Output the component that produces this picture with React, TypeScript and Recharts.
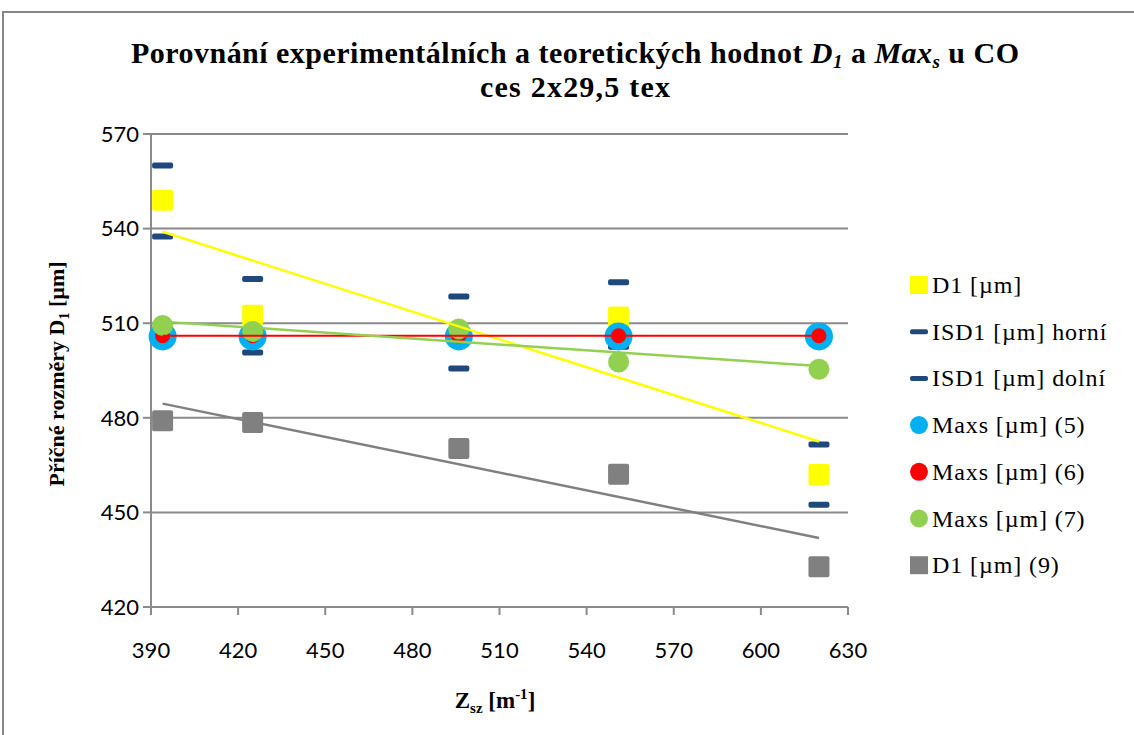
import React from "react";
import { ScatterChart, Scatter, XAxis, YAxis, CartesianGrid } from "recharts";

// Zsz [m-1] positions of the measured points
const zsz = [394, 425, 496, 551, 620];

// series values [µm]
const d1 = [549, 512.5, 506, 512, 462];
const isdUpper = [560, 524, 518.5, 523, 471.5];
const isdLower = [537.5, 500.7, 495.6, 502.5, 452.4];
const maxs5 = [505.8, 505.8, 505.8, 505.8, 505.8];
const maxs6 = [506, 506, 506, 506, 506];
const maxs7 = [509.3, 507.4, 508.2, 497.7, 495.4];
const d1Model = [479.1, 478.5, 470.3, 462.1, 432.8];

// linear trend lines (end points)
const trendX = [394, 620];
const d1Trend = [539, 472.5];
const maxs6Trend = [506, 506];
const maxs7Trend = [510.5, 496.4];
const d1ModelTrend = [484.5, 441.9];

const xTicks = [390, 420, 450, 480, 510, 540, 570, 600, 630];
const yTicks = [420, 450, 480, 510, 540, 570];

const legendItems = [
  { label: "D1 [µm]", color: "#FFFF00", kind: "square" },
  { label: "ISD1 [µm] horní", color: "#1F497D", kind: "dash" },
  { label: "ISD1 [µm] dolní", color: "#1F497D", kind: "dash" },
  { label: "Maxs [µm] (5)", color: "#00B0F0", kind: "circle" },
  { label: "Maxs [µm] (6)", color: "#FF0000", kind: "circle" },
  { label: "Maxs [µm] (7)", color: "#92D050", kind: "circle" },
  { label: "D1 [µm] (9)", color: "#808080", kind: "square" },
];

const toPoints = (xs: number[], ys: number[]) => xs.map((x, i) => ({ x, y: ys[i] }));

const squareShape = (color: string) => (p: any) => (
  <rect x={p.cx - 10.5} y={p.cy - 10.5} width={21} height={21} rx={2} fill={color} />
);
const dashShape = (color: string) => (p: any) => (
  <rect x={p.cx - 10.5} y={p.cy - 3} width={21} height={6} rx={2} fill={color} />
);
const circleShape = (color: string, r: number) => (p: any) => (
  <circle cx={p.cx} cy={p.cy} r={r} fill={color} />
);
const noShape = () => <g />;

const serif = "'Liberation Serif', 'DejaVu Serif', serif";
const sans = "Lato, 'Liberation Sans', sans-serif";

export default function App() {
  return (
    <div style={{ position: "absolute", left: 0, top: 0, width: 1134, height: 735, background: "#fff" }}>
      <ScatterChart width={1134} height={735} margin={{ top: 134, right: 286, bottom: 68, left: 0 }}>
        <CartesianGrid vertical={false} stroke="#8a8a8a" strokeWidth={2} />
        <XAxis
          type="number"
          dataKey="x"
          domain={[390, 630]}
          ticks={xTicks}
          height={60}
          axisLine={{ stroke: "#8a8a8a", strokeWidth: 2 }}
          tickLine={{ stroke: "#8a8a8a", strokeWidth: 2 }}
          tickSize={8}
          tickMargin={27}
          tick={{ fill: "#000", fontSize: 22, fontFamily: sans }}
        />
        <YAxis
          type="number"
          dataKey="y"
          domain={[420, 570]}
          ticks={yTicks}
          width={151}
          axisLine={{ stroke: "#8a8a8a", strokeWidth: 2 }}
          tickLine={{ stroke: "#8a8a8a", strokeWidth: 2 }}
          tickSize={8}
          tickMargin={4}
          tick={{ fill: "#000", fontSize: 22, fontFamily: sans }}
        />
        <Scatter data={toPoints(zsz, d1)} shape={squareShape("#FFFF00")} isAnimationActive={false} />
        <Scatter data={toPoints(zsz, isdUpper)} shape={dashShape("#1F497D")} isAnimationActive={false} />
        <Scatter data={toPoints(zsz, isdLower)} shape={dashShape("#1F497D")} isAnimationActive={false} />
        <Scatter data={toPoints(zsz, maxs5)} shape={circleShape("#00B0F0", 14)} isAnimationActive={false} />
        <Scatter data={toPoints(zsz, maxs6)} shape={circleShape("#FF0000", 7.5)} isAnimationActive={false} />
        <Scatter data={toPoints(zsz, maxs7)} shape={circleShape("#92D050", 10.5)} isAnimationActive={false} />
        <Scatter data={toPoints(zsz, d1Model)} shape={squareShape("#808080")} isAnimationActive={false} />
        <Scatter data={toPoints(trendX, d1Trend)} line={{ stroke: "#FFFF00", strokeWidth: 2.5 }} shape={noShape} isAnimationActive={false} />
        <Scatter data={toPoints(trendX, maxs6Trend)} line={{ stroke: "#FF0000", strokeWidth: 2 }} shape={noShape} isAnimationActive={false} />
        <Scatter data={toPoints(trendX, maxs7Trend)} line={{ stroke: "#92D050", strokeWidth: 2.5 }} shape={noShape} isAnimationActive={false} />
        <Scatter data={toPoints(trendX, d1ModelTrend)} line={{ stroke: "#808080", strokeWidth: 2.5 }} shape={noShape} isAnimationActive={false} />
      </ScatterChart>

      <svg width={1134} height={735} style={{ position: "absolute", left: 0, top: 0, pointerEvents: "none" }}>
        <rect x={3} y={12} width={1140} height={740} fill="none" stroke="#868686" strokeWidth={2} />

        {/* title */}
        <text
          x={575}
          y={63}
          textAnchor="middle"
          fontFamily={serif}
          fontWeight="bold"
          fontSize={30}
          fill="#000"
          textLength={888}
          lengthAdjust="spacing"
        >
          Porovnání experimentálních a teoretických hodnot{" "}
          <tspan fontStyle="italic">D</tspan>
          <tspan fontStyle="italic" fontSize={19} dy={5}>1</tspan>
          <tspan dy={-5}> a </tspan>
          <tspan fontStyle="italic">Max</tspan>
          <tspan fontStyle="italic" fontSize={19} dy={5}>s</tspan>
          <tspan dy={-5}> u CO</tspan>
        </text>
        <text
          x={575}
          y={97}
          textAnchor="middle"
          fontFamily={serif}
          fontWeight="bold"
          fontSize={30}
          fill="#000"
          textLength={190}
          lengthAdjust="spacing"
        >
          ces 2x29,5 tex
        </text>

        {/* y axis title */}
        <text
          transform="translate(64, 374) rotate(-90)"
          textAnchor="middle"
          fontFamily={serif}
          fontWeight="bold"
          fontSize={22}
          fill="#000"
        >
          Příčné rozměry D
          <tspan fontSize={14} dy={5}>1</tspan>
          <tspan dy={-5}> [µm]</tspan>
        </text>

        {/* x axis title */}
        <text x={495} y={708} textAnchor="middle" fontFamily={serif} fontWeight="bold" fontSize={23} fill="#000">
          Z<tspan fontSize={15} dy={5}>sz</tspan>
          <tspan dy={-5}> [m</tspan>
          <tspan fontSize={15} dy={-9}>-1</tspan>
          <tspan dy={9}>]</tspan>
        </text>

        {/* legend */}
        {legendItems.map((item, i) => {
          const cy = 285 + i * 46.7;
          return (
            <g key={item.label}>
              {item.kind === "square" && <rect x={910} y={cy - 9} width={18} height={18} fill={item.color} />}
              {item.kind === "dash" && <rect x={910} y={cy - 2.5} width={18} height={5} rx={2} fill={item.color} />}
              {item.kind === "circle" && <circle cx={919} cy={cy} r={9} fill={item.color} />}
              <text x={932} y={cy + 8} fontFamily={serif} fontSize={24} letterSpacing={0.9} fill="#000">
                {item.label}
              </text>
            </g>
          );
        })}
      </svg>
    </div>
  );
}
